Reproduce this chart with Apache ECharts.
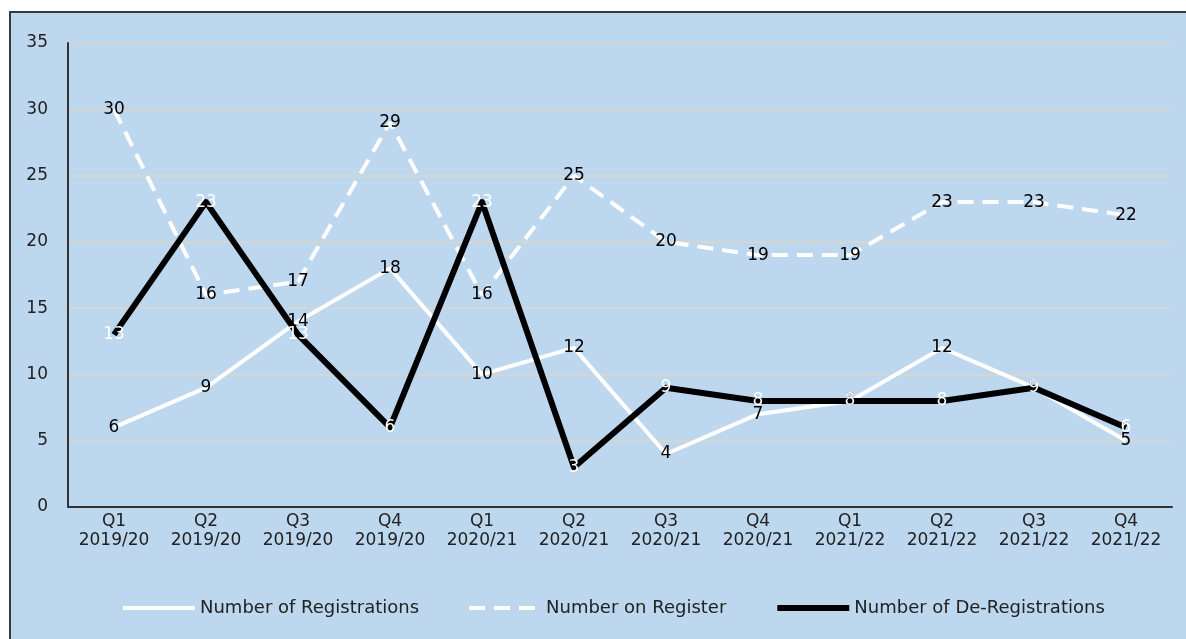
<!DOCTYPE html>
<html>
<head>
<meta charset="utf-8">
<title>Registrations</title>
<script src="https://cdn.jsdelivr.net/npm/echarts@6/dist/echarts.min.js"></script>
<style>
  html, body { margin: 0; padding: 0; background: #fff; }
  #chart { width: 1186px; height: 639px; }
</style>
</head>
<body>
<div id="chart"></div>
<script>
// quarters, two-line labels
const quarters = ["Q1\n2019/20", "Q2\n2019/20", "Q3\n2019/20", "Q4\n2019/20",
  "Q1\n2020/21", "Q2\n2020/21", "Q3\n2020/21", "Q4\n2020/21",
  "Q1\n2021/22", "Q2\n2021/22", "Q3\n2021/22", "Q4\n2021/22"];
const registrations = [6, 9, 14, 18, 10, 12, 4, 7, 8, 12, 9, 5];
const onRegister = [30, 16, 17, 29, 16, 25, 20, 19, 19, 23, 23, 22];
const deRegistrations = [13, 23, 13, 6, 23, 3, 9, 8, 8, 8, 9, 6];

const font = "DejaVu Sans";
const txt = "#222";

const myChart = echarts.init(document.getElementById("chart"));

const lineLabel = (color) => ({
  show: true,
  position: "inside",
  color: color,
  fontFamily: font,
  fontSize: 17,
  textBorderWidth: 0,
});

myChart.setOption({
  animation: false,
  backgroundColor: "#fff",
  graphic: [
    {
      type: "rect",
      z: -10,
      shape: { x: 10, y: 12, width: 1200, height: 660 },
      style: { fill: "#bdd7ee", stroke: "#3a3a3a", lineWidth: 2 },
    },
  ],
  grid: { left: 68, right: 14, top: 43, bottom: 132 },
  legend: {
    left: 116,
    top: 594,
    itemWidth: 72,
    itemHeight: 16,
    itemGap: 48,
    itemStyle: { opacity: 0 },
    textStyle: { color: txt, fontFamily: font, fontSize: 18 },
    data: [
      { name: "Number of Registrations", lineStyle: { width: 4 } },
      { name: "Number on Register", lineStyle: { width: 4 } },
      { name: "Number of De-Registrations", lineStyle: { width: 6 } },
    ],
  },
  xAxis: {
    type: "category",
    data: quarters,
    boundaryGap: true,
    axisLine: { lineStyle: { color: "#333", width: 2 } },
    axisTick: { show: false },
    axisLabel: {
      color: txt,
      fontFamily: font,
      fontSize: 17,
      lineHeight: 19,
      margin: 5,
      interval: 0,
    },
  },
  yAxis: {
    type: "value",
    min: 0,
    max: 35,
    interval: 5,
    axisLine: { show: true, lineStyle: { color: "#333", width: 2 } },
    axisTick: { show: false },
    splitLine: { lineStyle: { color: "#d6d6d0", width: 2 } },
    axisLabel: { color: txt, fontFamily: font, fontSize: 17, margin: 20 },
  },
  series: [
    {
      name: "Number of Registrations",
      type: "line",
      data: registrations,
      symbol: "circle",
      symbolSize: 0,
      itemStyle: { color: "#ffffff" },
      lineStyle: { color: "#ffffff", width: 4, join: "round" },
      label: lineLabel("#000"),
      z: 2,
    },
    {
      name: "Number on Register",
      type: "line",
      data: onRegister,
      symbol: "circle",
      symbolSize: 0,
      itemStyle: { color: "#ffffff" },
      lineStyle: { color: "#ffffff", width: 4, type: [16, 9], cap: "butt" },
      label: lineLabel("#000"),
      z: 3,
    },
    {
      name: "Number of De-Registrations",
      type: "line",
      data: deRegistrations,
      symbol: "circle",
      symbolSize: 0,
      itemStyle: { color: "#000000" },
      lineStyle: { color: "#000000", width: 6, join: "round" },
      label: lineLabel("#ffffff"),
      z: 4,
    },
  ],
});
</script>
</body>
</html>
